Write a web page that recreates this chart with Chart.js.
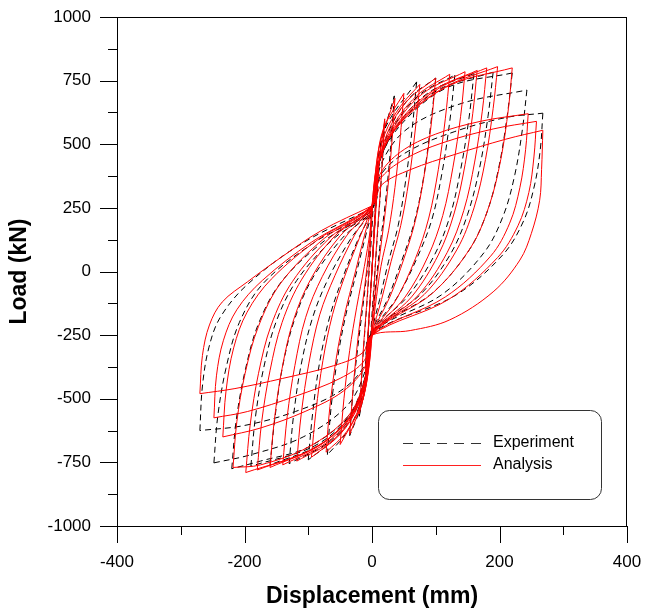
<!DOCTYPE html>
<html>
<head>
<meta charset="utf-8">
<script src="https://cdn.jsdelivr.net/npm/chart.js@4/dist/chart.umd.min.js"></script>
<style>
  html, body { margin: 0; padding: 0; background: #fff; }
  #wrap { width: 645px; height: 608px; }
</style>
</head>
<body>
<div id="wrap"><canvas id="hysteresis" width="645" height="608"></canvas></div>
<script>
// Load history, [displacement (mm), load (kN)], one line per half cycle
const experimentPoints = [
  [0, 0], [5, 250], [10, 430],
  [5, 210], [0, 10], [-5, -200], [-10, -410],
  [-5, -200], [0, 10], [6, 250], [12, 440], [20, 590],
  [14, 340], [7, 90], [1, -130], [-4, -310], [-10, -440], [-20, -570],
  [-14, -330], [-7, -90], [-1, 130], [4, 320], [14, 500], [35, 690],
  [29, 480], [21, 270], [12, 90], [4, -100], [-1, -245], [-6, -380], [-16, -520], [-35, -645],
  [-29, -450], [-20, -250], [-11, -70], [-3, 110], [1, 250], [7, 400], [22, 570], [70, 745],
  [63, 560], [53, 360], [41, 180], [26, 40], [12, -110], [-1, -245], [-7, -385], [-20, -530], [-42, -640], [-70, -720],
  [-64, -530], [-54, -340], [-41, -170], [-25, -10], [-10, 140], [1, 250], [9, 400], [27, 555], [58, 680], [100, 760],
  [92, 575], [81, 370], [66, 190], [47, 45], [25, -105], [-1, -245], [-8, -390], [-24, -535], [-55, -650], [-100, -740],
  [-93, -555], [-82, -355], [-66, -175], [-46, -25], [-22, 125], [1, 250], [10, 410], [33, 565], [75, 695], [130, 772],
  [122, 590], [110, 390], [94, 205], [71, 55], [40, -100], [-1, -245], [-9, -400], [-28, -545], [-65, -665], [-130, -755],
  [-123, -565], [-111, -365], [-93, -180], [-68, -25], [-33, 130], [1, 250], [11, 425], [40, 575], [90, 705], [160, 778],
  [152, 600], [139, 400], [122, 215], [97, 60], [57, -95], [-1, -245], [-10, -410], [-31, -555], [-78, -675], [-160, -760],
  [-152, -570], [-140, -370], [-121, -185], [-93, -25], [-47, 130], [1, 250], [12, 435], [45, 585], [105, 715], [190, 783],
  [182, 610], [169, 410], [150, 225], [123, 68], [76, -90], [-1, -245], [-11, -420], [-35, -565], [-90, -685], [-190, -765],
  [-183, -575], [-170, -380], [-150, -195], [-118, -35], [-62, 125], [1, 250], [13, 445], [52, 595], [120, 725], [220, 780],
  [212, 610], [199, 410], [180, 230], [150, 75], [93, -88], [-1, -245], [-12, -425], [-38, -570], [-100, -690], [-175, -745], [-220, -775],
  [-213, -585], [-199, -390], [-178, -205], [-142, -40], [-75, 120], [1, 250], [14, 420], [55, 560], [140, 660], [243, 713],
  [236, 560], [224, 380], [206, 220], [176, 75], [110, -90], [-1, -245], [-12, -400], [-40, -530], [-108, -650], [-190, -720], [-248, -752],
  [-242, -570], [-229, -380], [-208, -200], [-170, -45], [-90, 115], [1, 250], [14, 380], [55, 470], [130, 550], [210, 605], [268, 622],
  [264, 480], [255, 340], [238, 200], [205, 65], [130, -95], [-1, -245], [-12, -370], [-50, -470], [-120, -550], [-200, -605], [-270, -625],
  [-266, -450], [-256, -300], [-238, -180], [-195, -50], [-110, 110], [1, 250]
];

const analysisPoints = [
  [0, 0], [4, 200], [8, 350], [10, 420],
  [5, 200], [0, 10], [-5, -200], [-10, -400],
  [-5, -190], [0, 5], [5, 220], [11, 420], [20, 600],
  [14, 350], [7, 100], [2, -120], [-3, -300], [-8, -430], [-20, -560],
  [-14, -320], [-7, -80], [-2, 130], [3, 320], [12, 500], [36, 680],
  [30, 470], [22, 260], [13, 80], [5, -100], [0, -250], [-5, -380], [-15, -510], [-35, -640],
  [-29, -440], [-21, -240], [-12, -70], [-4, 110], [0, 255], [6, 400], [18, 560], [50, 700],
  [44, 520], [36, 330], [26, 160], [14, 20], [5, -140], [0, -250], [-6, -390], [-18, -530], [-50, -680],
  [-44, -500], [-35, -310], [-24, -140], [-12, 20], [-3, 160], [0, 255], [6, 390], [20, 540], [45, 650], [75, 735],
  [68, 560], [58, 360], [45, 180], [30, 40], [15, -110], [0, -250], [-6, -380], [-18, -520], [-40, -630], [-72, -710],
  [-66, -530], [-56, -340], [-43, -170], [-27, -10], [-12, 140], [0, 255], [8, 400], [25, 550], [55, 670], [100, 760],
  [93, 580], [82, 380], [68, 200], [50, 50], [28, -100], [0, -250], [-7, -390], [-22, -530], [-50, -640], [-95, -730],
  [-88, -550], [-77, -350], [-62, -170], [-43, -20], [-20, 130], [0, 258], [9, 410], [30, 560], [70, 690], [122, 775],
  [115, 600], [104, 400], [89, 210], [68, 50], [38, -110], [0, -250], [-8, -400], [-25, -540], [-60, -660], [-118, -745],
  [-111, -560], [-99, -360], [-82, -170], [-58, -15], [-28, 140], [0, 258], [10, 420], [35, 570], [80, 700], [146, 785],
  [139, 610], [127, 410], [111, 220], [88, 60], [52, -100], [0, -250], [-9, -410], [-28, -550], [-70, -670], [-140, -760],
  [-133, -570], [-121, -370], [-104, -180], [-78, -20], [-40, 140], [0, 258], [11, 430], [40, 580], [95, 710], [165, 790],
  [158, 620], [146, 420], [129, 230], [104, 65], [62, -100], [0, -250], [-10, -420], [-32, -560], [-80, -680], [-160, -770],
  [-153, -580], [-141, -380], [-123, -190], [-95, -25], [-50, 140], [0, 258], [12, 440], [45, 590], [105, 720], [180, 800],
  [173, 630], [161, 430], [144, 240], [118, 75], [72, -95], [0, -250], [-10, -425], [-34, -570], [-88, -690], [-180, -780],
  [-173, -590], [-160, -390], [-141, -200], [-110, -30], [-58, 140], [0, 258], [13, 450], [50, 600], [115, 725], [197, 805],
  [190, 640], [178, 440], [160, 250], [133, 85], [82, -90], [0, -250], [-11, -430], [-36, -575], [-95, -700], [-198, -790],
  [-191, -600], [-178, -400], [-158, -210], [-125, -40], [-65, 135], [0, 258], [14, 460], [55, 610], [125, 735], [220, 800],
  [214, 640], [202, 440], [184, 260], [155, 95], [95, -85], [0, -250], [-12, -430], [-38, -570], [-100, -690], [-175, -760], [-218, -770],
  [-212, -590], [-199, -400], [-178, -215], [-143, -45], [-75, 130], [0, 258], [12, 380], [45, 470], [100, 540], [170, 590], [245, 620],
  [241, 480], [232, 330], [216, 190], [186, 60], [115, -100], [0, -250], [-10, -370], [-45, -470], [-105, -550], [-175, -615], [-234, -650],
  [-229, -470], [-217, -300], [-196, -160], [-158, -30], [-85, 125], [0, 258], [12, 360], [50, 440], [110, 505], [190, 560], [258, 590],
  [254, 450], [246, 310], [229, 180], [197, 55], [120, -110], [0, -250], [-12, -350], [-50, -420], [-120, -490], [-195, -550], [-248, -575],
  [-244, -410], [-233, -270], [-212, -150], [-172, -35], [-95, 115], [0, 258], [15, 340], [60, 400], [130, 460], [210, 520], [268, 555],
  [266, 400], [263, 280], [250, 150], [232, 45], [190, -80], [122, -190], [60, -232], [0, -250], [-15, -320], [-60, -370], [-140, -420], [-215, -460], [-270, -480],
  [-266, -330], [-255, -210], [-235, -120], [-195, -40], [-140, 60], [-80, 160], [0, 258]
];

const xMajorTicks = [-400, -200, 0, 200, 400];
const xMinorTicks = [-300, -100, 100, 300];
const yMajorTicks = [-1000, -750, -500, -250, 0, 250, 500, 750, 1000];
const yMinorTicks = [-875, -625, -375, -125, 125, 375, 625, 875];
const seriesNames = ['Experiment', 'Analysis'];

const FONT = "'Liberation Sans', Arial, sans-serif";

// cut the history into branches wherever the displacement reverses
function splitBranches(points) {
  const branches = [];
  let cur = [points[0]];
  let dir = 0;
  for (let i = 1; i < points.length; i++) {
    const d = Math.sign(points[i][0] - points[i - 1][0]);
    if (d !== 0 && dir !== 0 && d !== dir) {
      branches.push(cur);
      cur = [points[i - 1]];
    }
    if (d !== 0) dir = d;
    cur.push(points[i]);
  }
  branches.push(cur);
  return branches.map(b => b.map(p => ({ x: p[0], y: p[1] })));
}

const datasets = [];
splitBranches(analysisPoints).forEach(b => {
  datasets.push({
    label: seriesNames[1], data: b, showLine: true, order: 0,
    borderColor: '#ff0000', borderWidth: 1, pointRadius: 0, tension: 0.35
  });
});
splitBranches(experimentPoints).forEach(b => {
  datasets.push({
    label: seriesNames[0], data: b, showLine: true, order: 1,
    borderColor: '#000000', borderWidth: 1, borderDash: [6, 4], pointRadius: 0, tension: 0.35
  });
});

// box, outward tick marks and the framed legend
const framePlugin = {
  id: 'frame',
  afterDraw(chart) {
    const { ctx, chartArea: a, scales } = chart;
    const xs = scales.x, ys = scales.y;
    ctx.save();
    ctx.strokeStyle = '#000';
    ctx.lineWidth = 1;
    ctx.beginPath();
    ctx.moveTo(a.left, a.top + 0.5); ctx.lineTo(a.right, a.top + 0.5);
    ctx.moveTo(a.right - 0.5, a.top); ctx.lineTo(a.right - 0.5, a.bottom);
    xMajorTicks.forEach(v => {
      const px = Math.round(xs.getPixelForValue(v)) + 0.5;
      ctx.moveTo(px, a.bottom); ctx.lineTo(px, a.bottom + 17);
    });
    xMinorTicks.forEach(v => {
      const px = Math.round(xs.getPixelForValue(v)) + 0.5;
      ctx.moveTo(px, a.bottom); ctx.lineTo(px, a.bottom + 9);
    });
    yMajorTicks.forEach(v => {
      const py = Math.round(ys.getPixelForValue(v)) + 0.5;
      ctx.moveTo(a.left, py); ctx.lineTo(a.left - 17, py);
    });
    yMinorTicks.forEach(v => {
      const py = Math.round(ys.getPixelForValue(v)) + 0.5;
      ctx.moveTo(a.left, py); ctx.lineTo(a.left - 9, py);
    });
    ctx.stroke();

    // legend
    const bx = 378.5, by = 410.5, bw = 223, bh = 89;
    ctx.strokeStyle = '#333';
    ctx.beginPath();
    ctx.roundRect(bx, by, bw, bh, 11);
    ctx.stroke();

    ctx.beginPath();
    ctx.setLineDash([10, 7]);
    ctx.strokeStyle = '#333';
    ctx.moveTo(403, 443.5); ctx.lineTo(481, 443.5);
    ctx.stroke();
    ctx.setLineDash([]);
    ctx.beginPath();
    ctx.strokeStyle = '#ff2020';
    ctx.moveTo(403, 465.5); ctx.lineTo(481, 465.5);
    ctx.stroke();

    ctx.fillStyle = '#000';
    ctx.font = '16px ' + FONT;
    ctx.textBaseline = 'middle';
    ctx.textAlign = 'left';
    ctx.fillText(seriesNames[0], 493, 443);
    ctx.fillText(seriesNames[1], 493, 465);
    ctx.restore();
  }
};

new Chart(document.getElementById('hysteresis'), {
  type: 'scatter',
  data: { datasets },
  options: {
    responsive: false,
    animation: false,
    devicePixelRatio: 1,
    layout: { padding: { left: 0, top: 17, right: 18, bottom: 0 } },
    plugins: { legend: { display: false }, tooltip: { enabled: false } },
    scales: {
      x: {
        type: 'linear', min: -400, max: 400,
        afterBuildTicks: s => { s.ticks = xMajorTicks.map(v => ({ value: v })); },
        afterFit: s => { s.height = 82; s.paddingLeft = 0; s.paddingRight = 0; },
        grid: { display: false, drawTicks: false },
        border: { display: true, color: '#000', width: 1 },
        ticks: {
          padding: 26, color: '#000', font: { family: FONT, size: 17 },
          callback: v => String(v)
        },
        title: {
          display: true, text: 'Displacement (mm)', color: '#000',
          font: { family: FONT, size: 23, weight: 'bold' }, padding: { top: 0, bottom: -2 }
        }
      },
      y: {
        type: 'linear', min: -1000, max: 1000,
        afterBuildTicks: s => { s.ticks = yMajorTicks.map(v => ({ value: v })); },
        afterFit: s => { s.width = 117; s.paddingTop = 0; s.paddingBottom = 0; },
        grid: { display: false, drawTicks: false },
        border: { display: true, color: '#000', width: 1 },
        ticks: {
          padding: 26, color: '#000', font: { family: FONT, size: 17 },
          callback: v => String(v)
        },
        title: {
          display: true, text: 'Load (kN)', color: '#000',
          font: { family: FONT, size: 23, weight: 'bold' }, padding: { top: 6, bottom: 0 }
        }
      }
    }
  },
  plugins: [framePlugin]
});
</script>
</body>
</html>
